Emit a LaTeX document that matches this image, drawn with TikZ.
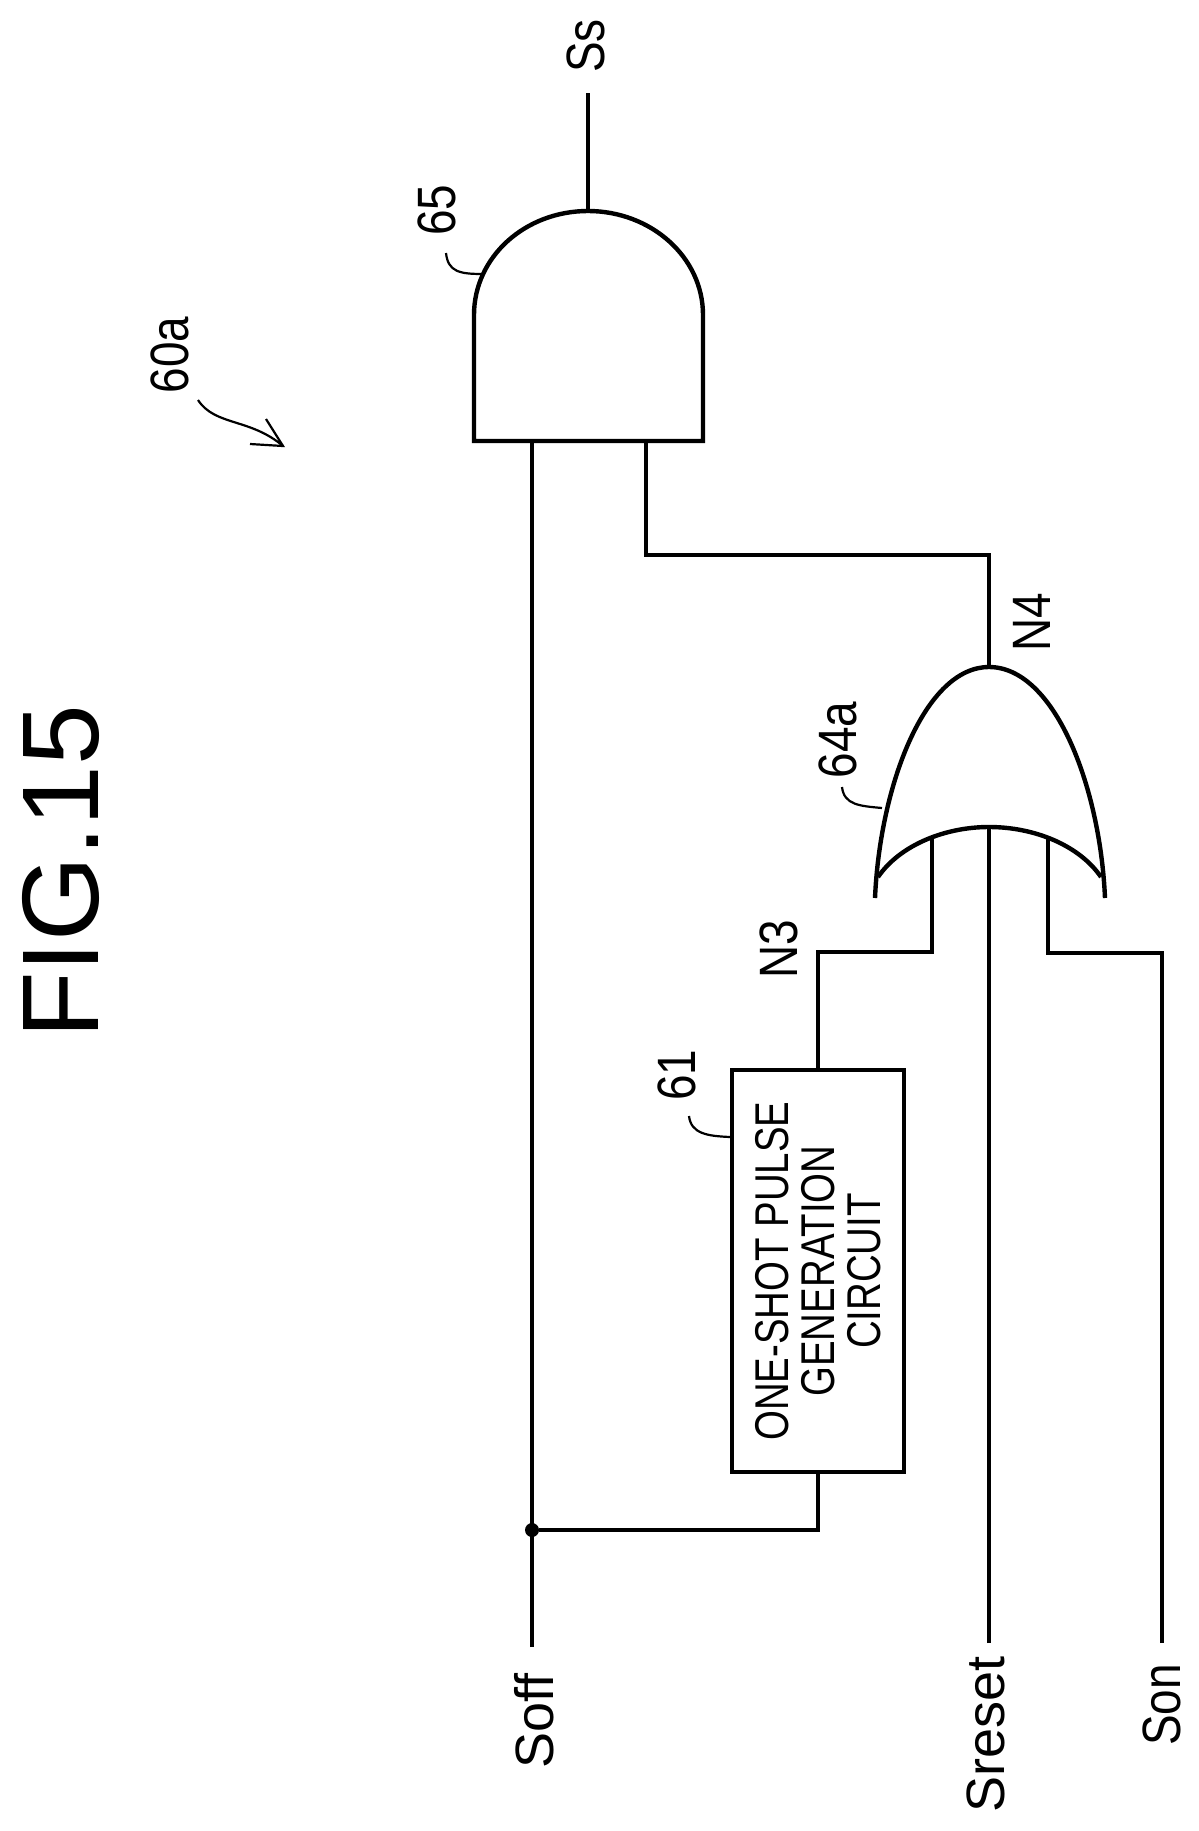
\documentclass[tikz,border=0pt]{standalone}
\usepackage{fontspec}
\setmainfont{Liberation Sans}
\newfontfamily\narrowfont[FakeStretch=0.85]{Liberation Sans}
\newfontfamily\boxfont[FakeStretch=0.81]{Liberation Sans}
\tikzset{
    wire/.style={line width=2.2pt,line join=miter},
    leader/.style={line width=1.1pt},
    sig/.style={rotate=90,inner sep=0pt,font=\fontsize{27}{27}\selectfont},
    num/.style={rotate=90,inner sep=0pt,font=\narrowfont\fontsize{27}{27}\selectfont},
}
\begin{document}
\begin{tikzpicture}[x=0.5pt,y=-0.5pt]
        \useasboundingbox (0,0) rectangle (1199,1831);
        %% title
        \node[rotate=90,inner sep=0pt,font=\fontsize{54.5}{54.5}\selectfont] (fig) at (61,872) {FIG.15};
        %% pins of the gates
        \coordinate (andA) at (532,441);
        \coordinate (andB) at (646,441);
        \coordinate (andOut) at (588,211);
        \coordinate (orA) at (932,837);
        \coordinate (orB) at (989,827);
        \coordinate (orC) at (1048,837);
        \coordinate (orOut) at (989,667);
        %% free ends
        \coordinate (ssEnd) at (588,93);
        \coordinate (soffEnd) at (532,1647);
        \coordinate (sresetEnd) at (989,1643);
        \coordinate (sonEnd) at (1162,1643);
        %% and gate
        \draw[wire] (474,441) -- (474,315) .. controls (474,257) and (525,211) .. (andOut)
            .. controls (651,211) and (703,257) .. (703,315) -- (703,441) -- cycle;
        %% or gate
        \draw[wire] (875,898) .. controls (880,785) and (925,667) .. (orOut)
            .. controls (1054,667) and (1100,785) .. (1105,898);
        \draw[wire] (878,877) .. controls (900,845) and (945,827) .. (orB)
            .. controls (1034,827) and (1079,845) .. (1101,877);
        %% pulse circuit
        \node[draw,wire,rotate=90,minimum width=201pt,minimum height=86pt,inner sep=0pt,align=center,
            font=\boxfont\fontsize{23.7}{23}\selectfont] (pulse) at (818,1271)
            {ONE-SHOT PULSE\\GENERATION\\CIRCUIT};
        \node[circle,fill=black,minimum size=7pt,inner sep=0pt] (jn) at (532,1530) {};
        %% wires
        \draw[wire] (andOut) -- (ssEnd);
        \draw[wire] (soffEnd) -- (andA);
        \draw[wire] (jn) -| (pulse.west);
        \draw[wire] (pulse.east) -- ++(0,-116) -| (orA);
        \draw[wire] (sresetEnd) -- (orB);
        \draw[wire] (sonEnd) -- ++(0,-690) -| (orC);
        \draw[wire] (orOut) -- ++(0,-112) -| (andB);
        %% labels
        \node[num] (ss) at (586,46) {Ss};
        \node[num] (n65) at (437,210) {65};
        \node[num] (n60a) at (170,355) {60a};
        \node[num] (n4) at (1032,622) {N4};
        \node[num] (n3) at (779,949) {N3};
        \node[num] (n64a) at (838,740) {64a};
        \node[num] (n61) at (677,1075) {61};
        \node[sig] (soff) at (534,1721) {Soff};
        \node[sig] (sreset) at (986,1734) {Sreset};
        \node[num] (son) at (1162,1705) {Son};
        %% leader lines
        \draw[leader] (446,253) .. controls (448,272) and (460,274) .. (483,274);
        \draw[leader] (842,787) .. controls (844,805) and (860,806) .. (882,808);
        \draw[leader] (689,1116) .. controls (691,1134) and (708,1136) .. (730,1137);
        \draw[leader] (198,400) .. controls (215,426) and (250,418) .. (283,446);
        \draw[leader] (266,419) -- (283,446) -- (250,444);
    \end{tikzpicture}
\end{document}
